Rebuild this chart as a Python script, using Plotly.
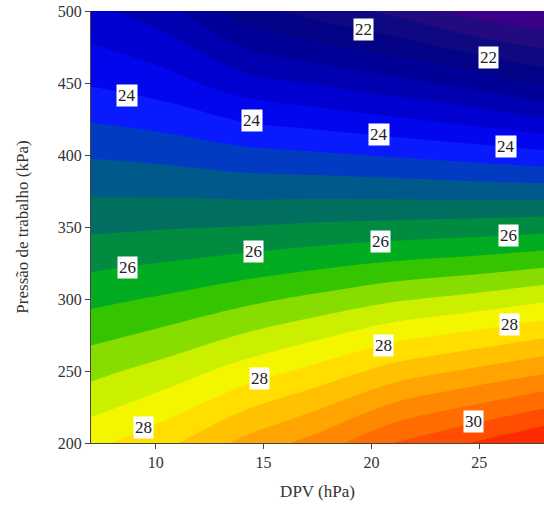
import plotly.graph_objects as go

# Grid (DPV in hPa, working pressure in kPa) and estimated values
dpv = [7, 10.5, 14, 17.5, 21, 24.5, 28]
pressao = [200, 250, 300, 350, 400, 450, 500]
# rows follow pressao, columns follow dpv
z_values = [
    [27.89, 28.30, 28.90, 29.37, 30.00, 30.40, 30.80],  # 200
    [27.08, 27.37, 27.76, 28.13, 28.56, 28.85, 29.13],  # 250
    [26.29, 26.46, 26.68, 26.90, 27.14, 27.31, 27.53],  # 300
    [25.52, 25.57, 25.61, 25.68, 25.73, 25.78, 25.85],  # 350
    [24.76, 24.68, 24.54, 24.46, 24.36, 24.25, 24.12],  # 400
    [23.96, 23.76, 23.38, 23.16, 22.94, 22.68, 22.33],  # 450
    [23.30, 22.95, 22.20, 21.83, 21.50, 21.06, 20.80],  # 500
]

# Contour labels as they appear on the chart
label_text = ["22", "22", "24", "24", "24", "24", "26", "26", "26", "26",
              "28", "28", "28", "28", "30"]
label_x = [19.62, 25.41, 8.67, 14.47, 20.36, 26.23, 8.67, 14.52, 20.44, 26.35,
           14.81, 20.55, 26.38, 9.45, 24.73]
label_y = [487.3, 467.8, 441.2, 423.8, 413.9, 405.8, 322.0, 332.9, 339.8, 344.4,
           245.1, 267.6, 282.4, 211.1, 214.6]

zmin, zmax = 20.8, 31.2
stops = [
    (20.8, "#3c0088"), (21.2, "#240a80"), (21.6, "#100a80"), (22.2, "#00008a"),
    (23.0, "#0000b8"), (23.6, "#0000e8"), (24.2, "#0a1eff"), (24.6, "#0040b8"),
    (25.0, "#005c86"), (25.4, "#00705e"), (25.8, "#008c40"), (26.2, "#00ac22"),
    (26.6, "#30c400"), (27.0, "#80da00"), (27.4, "#c4ee00"), (27.8, "#f2fa00"),
    (28.2, "#ffe400"), (28.6, "#ffc800"), (29.0, "#ffac00"), (29.6, "#ff8400"),
    (30.2, "#ff5c00"), (30.8, "#ff2a00"), (31.2, "#ff0000"),
]
colorscale = [[(v - zmin) / (zmax - zmin), c] for v, c in stops]

fig = go.Figure()
fig.add_trace(go.Contour(
    x=dpv, y=pressao, z=z_values,
    colorscale=colorscale, zmin=zmin, zmax=zmax,
    contours=dict(start=21.2, end=30.8, size=0.4, coloring="fill", showlines=False),
    line=dict(width=0, smoothing=1.0),
    showscale=False,
))

for t, x, y in zip(label_text, label_x, label_y):
    fig.add_annotation(x=x, y=y, text=t, showarrow=False,
                       bgcolor="white", borderpad=1,
                       font=dict(family="Liberation Serif", size=17, color="#222"))

fig.update_layout(
    width=544, height=518,
    margin=dict(l=91, r=0, t=11, b=75),
    paper_bgcolor="white", plot_bgcolor="white",
    font=dict(family="Liberation Serif", size=16, color="#333"),
    showlegend=False,
)
fig.update_xaxes(
    range=[7, 28], tickvals=[10, 15, 20, 25], ticks="outside", ticklen=5,
    tickcolor="#444", showline=True, linecolor="#444", linewidth=1,
    showgrid=False, zeroline=False,
    title=dict(text="DPV (hPa)", standoff=14, font=dict(size=17)),
)
fig.update_yaxes(
    range=[200, 500], tickvals=[200, 250, 300, 350, 400, 450, 500], ticks="outside",
    ticklen=5, tickcolor="#444", showline=True, linecolor="#444", linewidth=1,
    showgrid=False, zeroline=False,
    title=dict(text="Pressão de trabalho (kPa)", standoff=24, font=dict(size=17)),
)

fig.write_html("out.html")
